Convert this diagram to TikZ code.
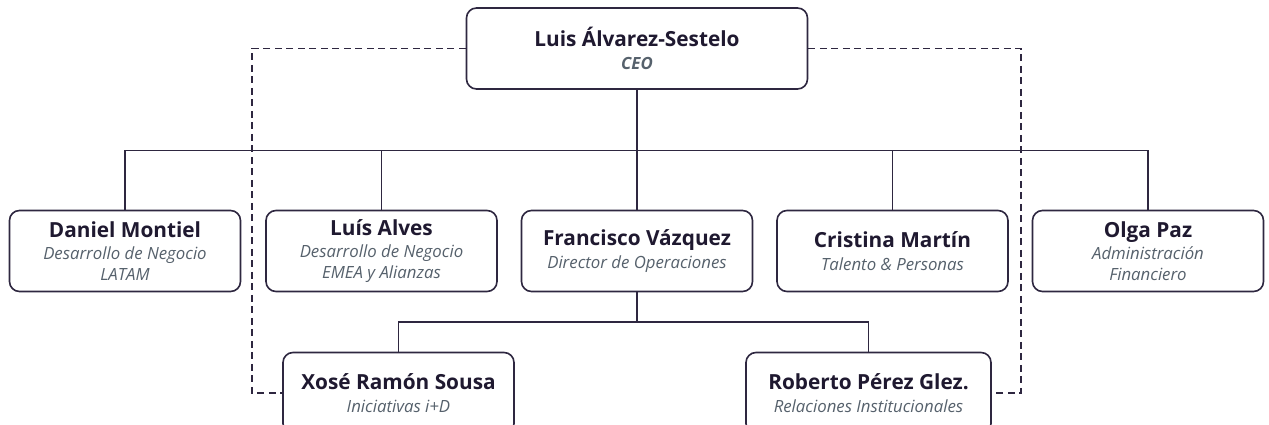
\documentclass[tikz,border=0pt]{standalone}
\usepackage{fontspec}
\setmainfont{Open Sans}
\definecolor{linecol}{HTML}{2E2740}
\definecolor{namecol}{HTML}{1F1930}
\definecolor{rolecol}{HTML}{56616C}
\def\namefont{\fontsize{20.8}{24}\selectfont\upshape\bfseries\color{namecol}}
\def\rolefont{\fontsize{16.8}{20.5}\selectfont\itshape\color{rolecol}}
\tikzset{
  person/.style={draw=linecol, line width=1.6pt, rounded corners=10pt, fill=white,
    minimum width=231pt, minimum height=81pt, inner sep=0pt, align=center, font=\rolefont},
  link/.style={draw=linecol, line width=1.5pt},
  dashlink/.style={draw=linecol, line width=1.5pt, dash pattern=on 7pt off 4.5pt}
}

\begin{document}
\begin{tikzpicture}[x=1pt, y=-1pt]
	%%%%% START %%%%%
	\useasboundingbox (0, 0) rectangle (1269, 425);
	
	\node[person, minimum width=341pt] (ceo) at (637, 48.5) {{\namefont Luis Álvarez-Sestelo}\\[2pt]{\bfseries CEO}};
	
	\node[person] (daniel) at (125, 251) {{\namefont Daniel Montiel}\\[2pt]{Desarrollo de Negocio}\\{LATAM}};
	\node[person] (luis) at (381.5, 251) {{\namefont Luís Alves}\\[2pt]{Desarrollo de Negocio}\\{EMEA y Alianzas}};
	\node[person] (francisco) at (637, 251) {{\namefont Francisco Vázquez}\\[3pt]{Director de Operaciones}};
	\node[person] (cristina) at (892.5, 251) {{\namefont Cristina Martín}\\[3pt]{Talento \& Personas}};
	\node[person] (olga) at (1148, 251) {{\namefont Olga Paz}\\[2pt]{Administración}\\{Financiero}};
	
	\node[person] (xose) at (398.5, 393) {{\namefont Xosé Ramón Sousa}\\[3pt]{Iniciativas i+D}};
	\node[person, minimum width=245pt] (roberto) at (868.5, 393) {{\namefont Roberto Pérez Glez.}\\[3pt]{Relaciones Institucionales}};
	
	\coordinate (bus) at (637, 150.5);
	\coordinate (opsbus) at (637, 322);
	\coordinate (leftrail) at (252, 0);
	\coordinate (rightrail) at (1021, 0);
	
	\draw[link] (ceo) -- (bus);
	\foreach \who in {daniel, luis, francisco, cristina, olga}
		\draw[link] (bus) -| (\who.north);
	
	\draw[link] (francisco) -- (opsbus);
	\draw[link] (opsbus) -| (xose.north);
	\draw[link] (opsbus) -| (roberto.north);
	
	\draw[dashlink] (ceo.west) -- (ceo.west -| leftrail) |- (xose.west);
	\draw[dashlink] (ceo.east) -- (ceo.east -| rightrail) |- (roberto.east);
	
	%%%%% END %%%%%
\end{tikzpicture}
\end{document}
